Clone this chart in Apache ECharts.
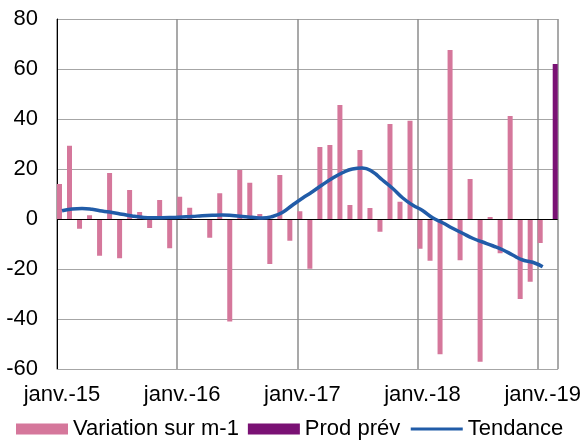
<!DOCTYPE html>
<html>
<head>
<meta charset="utf-8">
<script src="https://cdn.jsdelivr.net/npm/echarts@6/dist/echarts.min.js"></script>
<style>
html,body{margin:0;padding:0;background:#fff;}
#chart{width:584px;height:440px;}
</style>
</head>
<body>
<div id="chart"></div>
<script>
// Month abbreviations and years used to build the category labels
const monthNames = ['janv.','févr.','mars','avr.','mai','juin','juil.','août','sept.','oct.','nov.','déc.'];
const years = ['15','16','17','18','19'];
const categories = [];
years.forEach(y => monthNames.forEach(m => { if (categories.length < 50) categories.push(m + '-' + y); }));

// Variation sur m-1 (Jan 2015 .. Jan 2019)
const variation = [
  14, 29.3, -3.9, 1.5, -14.7, 18.4, -15.7, 11.6, 2.8, -3.6, 7.6, -11.7,
  8.9, 4.5, 0, -7.5, 10.3, -41, 19.6, 14.5, 2, -18, 17.6, -8.7,
  3.1, -19.9, 28.8, 29.6, 45.6, 5.6, 27.6, 4.4, -5.1, 38, 6.9, 39.3,
  -11.9, -16.7, -54.1, 67.6, -16.5, 16, -57.1, 0.8, -13.7, 41.2, -32, -25.1,
  -9.6, null
];
// Prod prév (only last month)
const prodPrev = new Array(49).fill(null).concat([62]);
// Tendance
const tendance = [
  3.3, 4.0, 4.2, 3.9, 3.2, 2.6, 1.9, 1.2, 0.7, 0.5, 0.5, 0.6,
  0.8, 1.0, 1.3, 1.5, 1.6, 1.4, 1.0, 0.7, 0.4, 1.0, 2.6, 5.5,
  8.3, 10.9, 13.7, 16.3, 18.5, 20.0, 20.4, 18.9, 15.6, 12.3, 8.5, 5.6,
  3.4, 0.5, -1.5, -3.7, -5.7, -7.7, -9.2, -10.7, -12.3, -14.4, -16.4, -17.3,
  -19.1, null
];

const FONT = "'Liberation Sans', Arial, sans-serif";
const chart = echarts.init(document.getElementById('chart'));
chart.setOption({
  animation: false,
  backgroundColor: '#ffffff',
  grid: { left: 57, right: 25, top: 19, bottom: 71, containLabel: false },
  legend: {
    left: 16, top: 418, padding: 0, itemGap: 9,
    itemWidth: 52, itemHeight: 11,
    textStyle: { fontFamily: FONT, fontSize: 22, color: '#000' },
    data: [
      { name: 'Variation sur m-1', icon: 'rect' },
      { name: 'Prod prév', icon: 'rect' },
      { name: 'Tendance', itemStyle: { opacity: 0 }, lineStyle: { width: 3 } }
    ]
  },
  xAxis: {
    type: 'category',
    data: categories,
    boundaryGap: true,
    axisLine: { show: true, onZero: false, lineStyle: { color: '#A6A6A6', width: 1 } },
    axisTick: { show: false },
    axisLabel: {
      interval: (i) => i % 12 === 0,
      margin: 15,
      fontFamily: FONT, fontSize: 22, color: '#000'
    },
    splitLine: {
      show: true,
      interval: (i) => i % 12 === 0,
      lineStyle: { color: '#8C8C8C', width: 1.5 }
    }
  },
  yAxis: {
    type: 'value',
    min: -60, max: 80, interval: 20,
    axisLine: { show: true, lineStyle: { color: '#000', width: 1 } },
    axisTick: { show: false },
    axisLabel: { margin: 19, fontFamily: FONT, fontSize: 22, color: '#000' },
    splitLine: { show: true, lineStyle: { color: '#A6A6A6', width: 1 } }
  },
  series: [
    {
      name: 'Variation sur m-1', type: 'bar', data: variation,
      barWidth: 5, barGap: '0%',
      itemStyle: { color: '#D5779B' },
      markLine: {
        silent: true, symbol: 'none', label: { show: false },
        lineStyle: { color: '#000', width: 1, type: 'solid' },
        data: [{ yAxis: 0 }]
      }
    },
    {
      name: 'Prod prév', type: 'bar', data: prodPrev,
      barWidth: 5, barGap: '0%',
      itemStyle: { color: '#7A1174' }
    },
    {
      name: 'Tendance', type: 'line', data: tendance,
      smooth: true, symbol: 'none', z: 5,
      lineStyle: { color: '#215CA8', width: 3.5 },
      itemStyle: { color: '#215CA8' }
    }
  ]
});
</script>
</body>
</html>
